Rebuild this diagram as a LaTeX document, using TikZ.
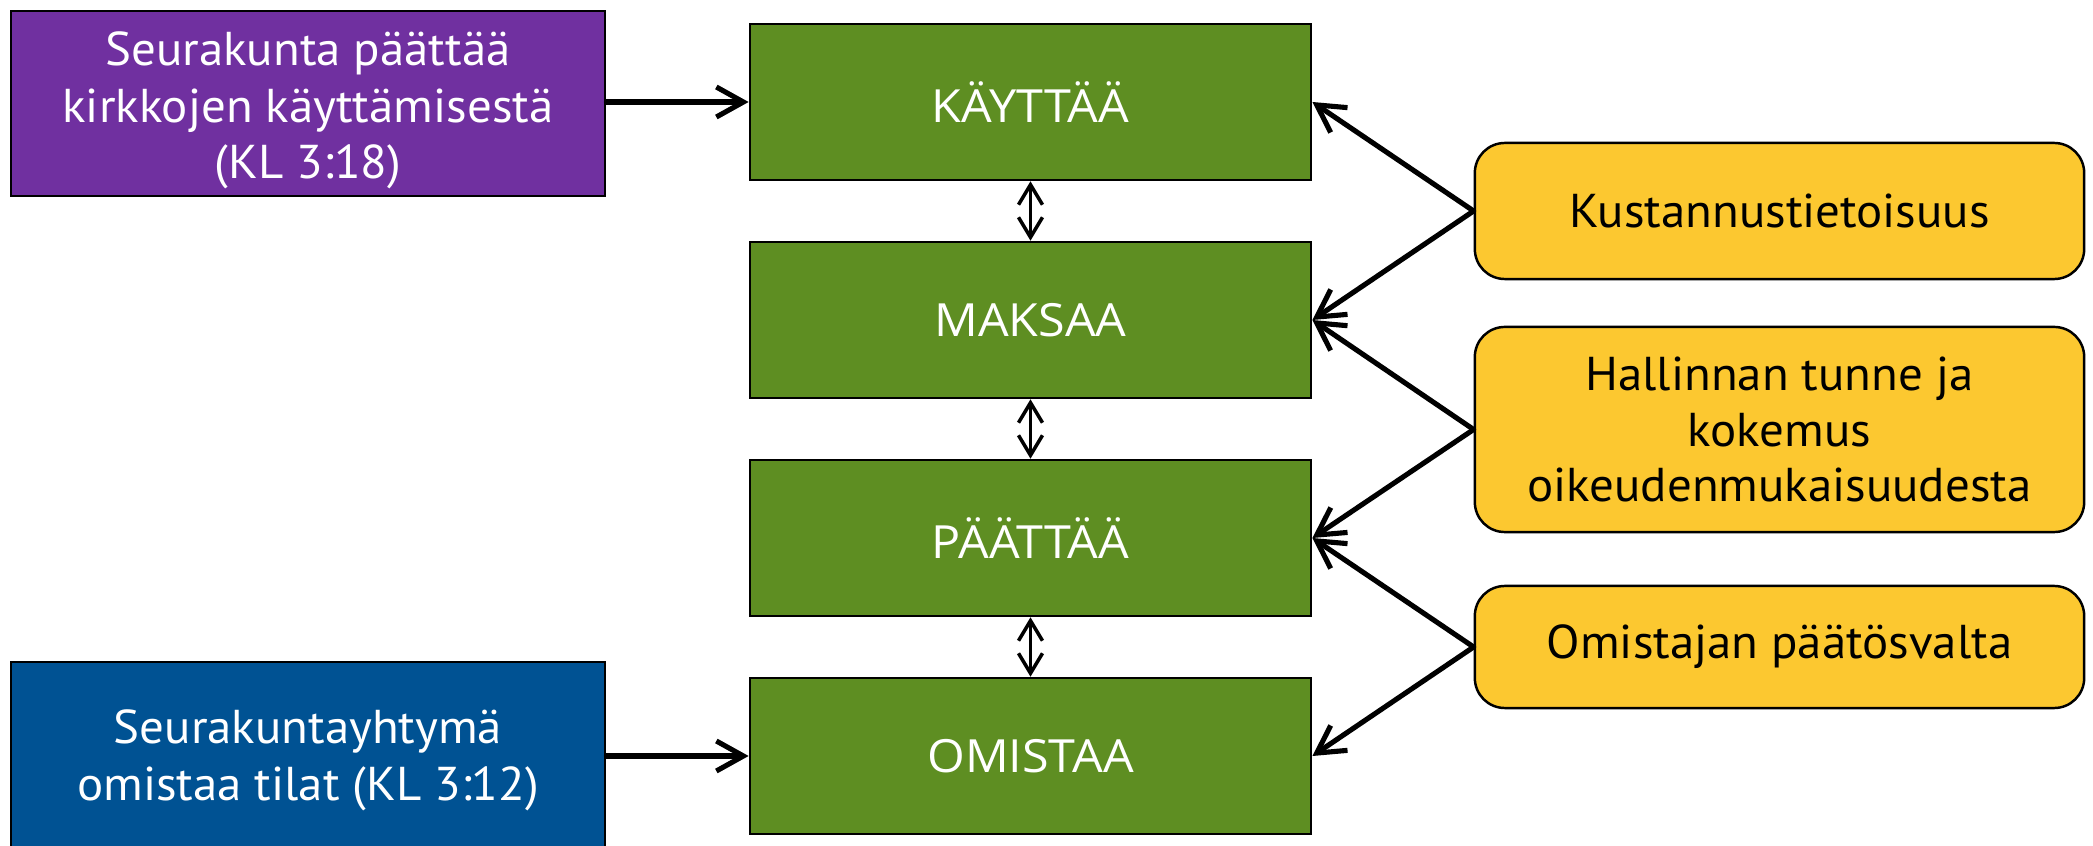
\documentclass[tikz,border=0pt]{standalone}
\usepackage{fontspec}
\setmainfont{PT Sans}
\newfontfamily\narrowfont[FakeStretch=1.03]{PT Sans}
\newfontfamily\greenfont[FakeStretch=1.06]{Open Sans}
\usetikzlibrary{arrows.meta}
\definecolor{cpurple}{RGB}{112,48,160}
\definecolor{cblue}{RGB}{0,82,147}
\definecolor{cgreen}{RGB}{94,142,34}
\definecolor{cyellow}{RGB}{252,200,48}
\tikzset{
  sidebox/.style={draw=black, line width=0.7pt, inner sep=0pt, minimum width=5.94cm,
    align=center, text=white, font=\narrowfont\fontsize{13.5}{16.2}\selectfont},
  greenbox/.style={draw=black, line width=0.7pt, fill=cgreen, inner sep=0pt,
    minimum width=5.61cm, minimum height=1.56cm, text=white,
    font=\greenfont\fontsize{13}{15}\selectfont},
  yellowbox/.style={draw=black, line width=0.7pt, fill=cyellow, rounded corners=0.3cm,
    inner sep=0pt, minimum width=6.09cm, align=center, text=black,
    font=\narrowfont\fontsize{13.5}{15.7}\selectfont},
  mainarrow/.style={line width=1.45pt, line cap=round, line join=round,
    -{Straight Barb[length=0.27cm,width=0.3cm,line width=1.45pt]}},
  dblarrow/.style={line width=1pt, line cap=round,
    {Straight Barb[length=0.2cm,width=0.24cm,line width=1pt]}-{Straight Barb[length=0.2cm,width=0.24cm,line width=1pt]}}
}
\begin{document}
\begin{tikzpicture}[x=0.01cm,y=-0.01cm]
\useasboundingbox (0,0) rectangle (2093,846);
\node[sidebox, fill=cpurple, minimum height=1.85cm] (p) at (308,103.5)
  {\rule{0pt}{13.5pt}Seurakunta päättää\\kirkkojen käyttämisestä\\(KL 3:18)};
\node[sidebox, fill=cblue, minimum height=1.86cm] (b) at (308,755)
  {\rule{0pt}{12.6pt}Seurakuntayhtymä\\omistaa tilat (KL 3:12)};
\node[greenbox] (g1) at (1030.5,102) {KÄYTTÄÄ};
\node[greenbox] (g2) at (1030.5,320) {MAKSAA};
\node[greenbox] (g3) at (1030.5,538) {PÄÄTTÄÄ};
\node[greenbox] (g4) at (1030.5,756) {OMISTAA};
\node[yellowbox, minimum height=1.36cm] (y1) at (1779.5,211) {Kustannustietoisuus};
\node[yellowbox, minimum height=2.05cm] (y2) at (1779.5,429.5) {Hallinnan tunne ja\\kokemus\\oikeudenmukaisuudesta};
\node[yellowbox, minimum height=1.22cm] (y3) at (1779.5,647) {Omistajan päätösvalta};
\draw[mainarrow] (p.east |- g1.east) -- (g1.west);
\draw[mainarrow] (b.east |- g4.west) -- (g4.west);
\draw[dblarrow] (g1.south) -- (g2.north);
\draw[dblarrow] (g2.south) -- (g3.north);
\draw[dblarrow] (g3.south) -- (g4.north);
\draw[mainarrow] (y1.west) -- (g1.east);
\draw[mainarrow] (y1.west) -- (g2.east);
\draw[mainarrow] (y2.west) -- (g2.east);
\draw[mainarrow] (y2.west) -- (g3.east);
\draw[mainarrow] (y3.west) -- (g3.east);
\draw[mainarrow] (y3.west) -- (g4.east);
\end{tikzpicture}
\end{document}
